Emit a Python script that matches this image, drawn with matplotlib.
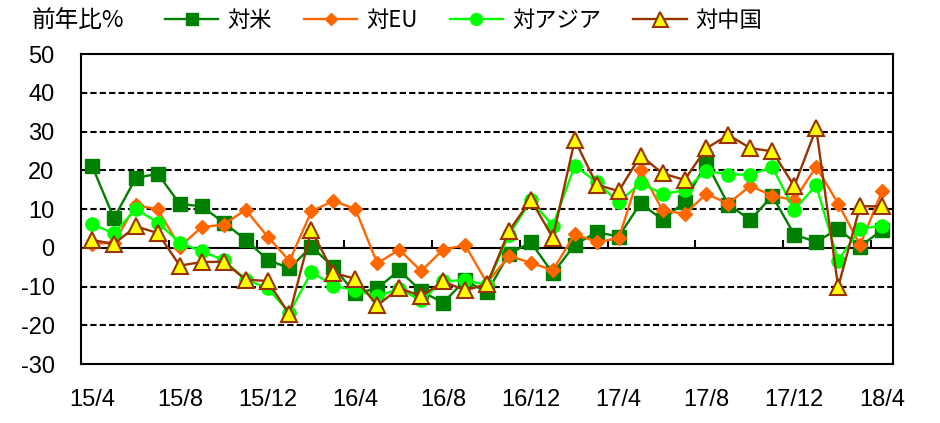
import matplotlib
matplotlib.use("Agg")
import matplotlib.pyplot as plt
import numpy as np

months = ["15/4", "15/5", "15/6", "15/7", "15/8", "15/9", "15/10", "15/11", "15/12",
          "16/1", "16/2", "16/3", "16/4", "16/5", "16/6", "16/7", "16/8", "16/9", "16/10",
          "16/11", "16/12", "17/1", "17/2", "17/3", "17/4", "17/5", "17/6", "17/7", "17/8",
          "17/9", "17/10", "17/11", "17/12", "18/1", "18/2", "18/3", "18/4"]

us = [21.2, 7.6, 18.0, 19.1, 11.3, 10.7, 6.5, 2.1, -3.1,
      -5.3, 0.3, -5.0, -11.8, -10.5, -5.8, -11.2, -14.2, -8.4, -11.5,
      -1.6, 1.4, -6.6, 0.8, 4.0, 2.9, 11.5, 7.2, 11.8, 21.9,
      11.1, 7.2, 13.4, 3.4, 1.5, 4.9, 0.3, 4.6]
eu = [1.0, 1.3, 11.0, 9.9, 0.3, 5.3, 6.0, 9.8, 2.9,
      -3.4, 9.4, 12.1, 10.0, -4.0, -0.5, -6.0, -0.5, 0.7, -9.1,
      -2.1, -3.9, -5.8, 3.5, 1.5, 2.4, 20.1, 9.7, 8.7, 13.9,
      11.4, 16.0, 13.4, 12.3, 20.9, 11.4, 0.7, 14.6]
asia = [6.1, 3.7, 10.0, 6.5, 1.3, -0.9, -3.2, -8.2, -10.4,
        -16.8, -6.2, -9.8, -11.0, -12.5, -10.6, -13.6, -8.6, -8.4, -9.6,
        3.3, 12.2, 5.7, 21.2, 16.9, 11.8, 16.7, 13.9, 14.8, 19.9,
        18.9, 18.9, 20.8, 9.8, 16.1, -3.3, 4.9, 5.7]
china = [2.0, 1.0, 5.5, 3.8, -4.6, -3.7, -3.6, -8.2, -8.6,
         -17.2, 4.6, -6.5, -8.0, -14.9, -10.4, -12.5, -8.7, -11.0, -9.4,
         4.3, 12.4, 2.6, 27.8, 16.3, 14.6, 23.8, 19.2, 17.5, 25.7,
         29.1, 25.7, 24.9, 15.9, 30.8, -10.1, 10.7, 10.7]

series_names = ["対米", "対EU", "対アジア", "対中国"]
y_ticks = [50, 40, 30, 20, 10, 0, -10, -20, -30]
ylabel_text = "前年比%"

cjk = ["Noto Sans CJK JP", "DejaVu Sans"]
latin = ["Liberation Sans", "DejaVu Sans"]

fig = plt.figure(figsize=(9.4, 4.23), dpi=100)
ax = fig.add_axes([81/940, 1-364/423, (893-81)/940, (364-54)/423])

x = np.arange(len(months))

ax.plot(x, us, color="#008000", lw=1.7, marker="s", ms=9.5, mfc="#008000", mec="#008000", label=series_names[0], zorder=3)
ax.plot(x, eu, color="#FF6600", lw=1.7, marker="D", ms=7.2, mfc="#FF6600", mec="#FF6600", label=series_names[1], zorder=4)
ax.plot(x, asia, color="#00FF00", lw=1.7, marker="o", ms=9.5, mfc="#00FF00", mec="#00FF00", label=series_names[2], zorder=5)
ax.plot(x, china, color="#993300", lw=1.7, marker="^", ms=12, mfc="#FFFF00", mec="#993300", mew=1.5, label=series_names[3], zorder=6)

ax.set_xlim(-0.5, len(months) - 0.5)
ax.set_ylim(min(y_ticks), max(y_ticks))
ax.set_yticks(y_ticks)
ax.set_yticklabels([str(v) for v in y_ticks], fontfamily=latin, fontsize=17)
ax.tick_params(axis="y", length=0, pad=19)

lab_idx = list(range(0, len(months), 4))
ax.set_xticks(lab_idx)
ax.set_xticklabels([months[i] for i in lab_idx], fontfamily=latin, fontsize=17)
ax.tick_params(axis="x", length=0, pad=18)

# gridlines
for v in y_ticks:
    if v not in (0, max(y_ticks), min(y_ticks)):
        ax.axhline(v, color="black", lw=1.5, ls=(0, (3.0, 1.5)), zorder=1)
ax.axhline(0, color="black", lw=1.5, zorder=2)
# category tick marks on zero line
tick_pos = np.arange(3.5, len(months) - 0.5, 4)
ax.vlines(tick_pos, 0, 2.0, color="black", lw=1.5, zorder=2)

for s in ax.spines.values():
    s.set_color("black")
    s.set_linewidth(1.5)

leg = fig.legend(loc="center left", bbox_to_anchor=(165/940, 1-20/423), ncol=4, frameon=False,
                 prop={"family": cjk, "size": 16}, handlelength=2.4, handletextpad=0.4,
                 columnspacing=1.45, borderpad=0, borderaxespad=0, markerscale=0.9)

fig.text(32/940, 1-20/423, ylabel_text, ha="left", va="center", fontfamily=cjk, fontsize=17)

fig.savefig("out.png", dpi=100)
